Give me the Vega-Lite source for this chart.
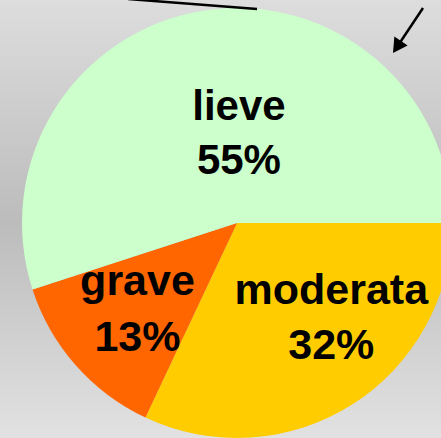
{
  "$schema": "https://vega.github.io/schema/vega-lite/v6.json",
  "autosize": "none",
  "padding": 0,
  "width": 474,
  "height": 446,
  "background": "#d0d0d0",
  "view": {
    "stroke": null,
    "fill": {
      "gradient": "linear",
      "x1": 0, "y1": 0, "x2": 0, "y2": 1,
      "stops": [
        {"offset": 0, "color": "#dddddd"},
        {"offset": 0.5, "color": "#bcbcbc"},
        {"offset": 1, "color": "#e3e3e3"}
      ]
    }
  },
  "datasets": {
    "slices": [
      {"categoria": "moderata", "pct": 32},
      {"categoria": "grave", "pct": 13},
      {"categoria": "lieve", "pct": 55}
    ],
    "segments": [
      {"id": "line", "px": 128, "py": -1},
      {"id": "line", "px": 257, "py": 9},
      {"id": "arrow", "px": 423, "py": 8},
      {"id": "arrow", "px": 399, "py": 44}
    ],
    "heads": [
      {"id": "arrow", "px": 397, "py": 47}
    ]
  },
  "layer": [
    {
      "data": {"name": "slices"},
      "mark": {"type": "arc", "outerRadius": 215},
      "encoding": {
        "theta": {"field": "pct", "type": "quantitative", "stack": true,
          "scale": {"domain": [0, 100], "range": [3.5814, 9.8646]}},
        "order": {"field": "categoria", "sort": "ascending"},
        "color": {"field": "categoria", "type": "nominal", "legend": null,
          "scale": {"domain": ["grave", "lieve", "moderata"], "range": ["#ff6600", "#ccffcc", "#ffcc00"]}}
      }
    },
    {
      "data": {"name": "slices"},
      "transform": [{"calculate": "[datum.categoria, datum.pct + '%']", "as": "txt"}],
      "mark": {"type": "text", "radius": 90, "dx": 16, "dy": -27, "font": "Liberation Sans", "fontWeight": "bold", "fontSize": 42, "lineHeight": 54, "color": "#000000", "baseline": "middle", "align": "center"},
      "encoding": {
        "theta": {"field": "pct", "type": "quantitative", "stack": true},
        "order": {"field": "categoria", "sort": "ascending"},
        "detail": {"field": "categoria"},
        "text": {"condition": {"test": "datum.categoria == 'lieve'", "field": "txt"}, "value": ""}
      }
    },
    {
      "data": {"name": "slices"},
      "transform": [{"calculate": "[datum.categoria, datum.pct + '%']", "as": "txt"}],
      "mark": {"type": "text", "radius": 130, "dx": -2, "dy": -27, "font": "Liberation Sans", "fontWeight": "bold", "fontSize": 43, "lineHeight": 56, "color": "#000000", "baseline": "middle", "align": "center"},
      "encoding": {
        "theta": {"field": "pct", "type": "quantitative", "stack": true},
        "order": {"field": "categoria", "sort": "ascending"},
        "detail": {"field": "categoria"},
        "text": {"condition": {"test": "datum.categoria == 'grave'", "field": "txt"}, "value": ""}
      }
    },
    {
      "data": {"name": "slices"},
      "transform": [{"calculate": "[datum.categoria, datum.pct + '%']", "as": "txt"}],
      "mark": {"type": "text", "radius": 120, "dx": 30, "dy": -33, "font": "Liberation Sans", "fontWeight": "bold", "fontSize": 43, "lineHeight": 55, "color": "#000000", "baseline": "middle", "align": "center"},
      "encoding": {
        "theta": {"field": "pct", "type": "quantitative", "stack": true},
        "order": {"field": "categoria", "sort": "ascending"},
        "detail": {"field": "categoria"},
        "text": {"condition": {"test": "datum.categoria == 'moderata'", "field": "txt"}, "value": ""}
      }
    },
    {
      "data": {"name": "segments"},
      "mark": {"type": "line", "color": "#000000", "strokeWidth": 2.5},
      "encoding": {
        "x": {"field": "px", "type": "quantitative", "axis": null, "scale": {"domain": [0, 474], "nice": false, "zero": false}},
        "y": {"field": "py", "type": "quantitative", "axis": null, "scale": {"domain": [0, 446], "nice": false, "zero": false, "reverse": true}},
        "detail": {"field": "id"}
      }
    },
    {
      "data": {"name": "heads"},
      "mark": {"type": "point", "shape": "M0,-0.9L1,0.9L-1,0.9Z", "filled": true, "color": "#000000", "opacity": 1, "size": 256, "angle": 213.7},
      "encoding": {
        "x": {"field": "px", "type": "quantitative", "axis": null, "scale": {"domain": [0, 474], "nice": false, "zero": false}},
        "y": {"field": "py", "type": "quantitative", "axis": null, "scale": {"domain": [0, 446], "nice": false, "zero": false, "reverse": true}}
      }
    }
  ]
}
